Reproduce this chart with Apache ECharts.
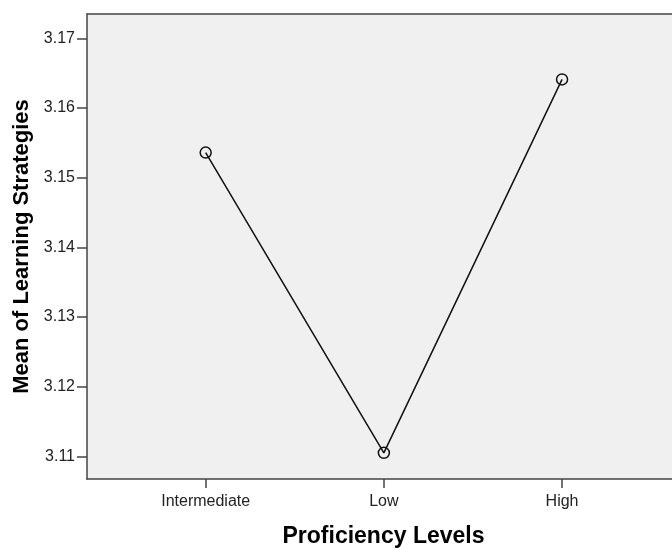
<!DOCTYPE html>
<html>
<head>
<meta charset="utf-8">
<script src="https://cdn.jsdelivr.net/npm/echarts@6/dist/echarts.min.js"></script>
<style>html,body{margin:0;padding:0;background:#fff}#c{width:672px;height:548px}</style>
</head>
<body>
<div id="c"></div>
<script>
var categories = ['Intermediate', 'Low', 'High'];
var means = [3.1536, 3.1105, 3.1641];
var yTicks = [3.11, 3.12, 3.13, 3.14, 3.15, 3.16, 3.17];

var positions = categories.map(function (c, i) { return i + 1; });
var seriesData = means.map(function (v, i) { return [positions[i], v]; });

var FONT = 'Liberation Sans, Arial, sans-serif';
var AXIS_COLOR = '#444444';

var chart = echarts.init(document.getElementById('c'), null, { renderer: 'canvas' });
chart.setOption({
  backgroundColor: '#ffffff',
  animation: false,
  grid: {
    left: 87, top: 14, right: 0, bottom: 69,
    outerBoundsMode: 'none',
    containLabel: false,
    show: true, backgroundColor: '#f0f0f0', borderWidth: 0
  },
  xAxis: [{
    type: 'value',
    min: 0.334,
    max: 3.617,
    name: 'Proficiency Levels',
    nameLocation: 'middle',
    nameGap: 46,
    nameTextStyle: { fontFamily: FONT, fontWeight: 'bold', fontSize: 23, color: '#000', padding: [0, 0, 0, 8] },
    splitLine: { show: false },
    axisLine: { show: true, lineStyle: { color: AXIS_COLOR, width: 1.5 } },
    axisTick: { show: true, customValues: positions, length: 9, lineStyle: { color: AXIS_COLOR, width: 1.5 } },
    axisLabel: {
      customValues: positions,
      margin: 15,
      fontFamily: FONT, fontSize: 16, color: '#222',
      formatter: function (v) { return categories[Math.round(v) - 1] || ''; }
    }
  }, {
    type: 'value',
    position: 'top',
    min: 0.334,
    max: 3.617,
    splitLine: { show: false },
    axisLine: { show: true, lineStyle: { color: AXIS_COLOR, width: 1.5 } },
    axisTick: { show: false },
    axisLabel: { show: false }
  }],
  yAxis: {
    type: 'value',
    min: 3.10674,
    max: 3.17349,
    name: 'Mean of Learning Strategies',
    nameLocation: 'middle',
    nameGap: 54,
    nameTextStyle: { fontFamily: FONT, fontWeight: 'bold', fontSize: 22, color: '#000' },
    splitLine: { show: false },
    axisLine: { show: true, lineStyle: { color: AXIS_COLOR, width: 1.5 } },
    axisTick: { show: true, customValues: yTicks, length: 10, lineStyle: { color: AXIS_COLOR, width: 1.5 } },
    axisLabel: {
      customValues: yTicks,
      margin: 12,
      fontFamily: FONT, fontSize: 16, color: '#222',
      formatter: function (v) { return v.toFixed(2); }
    }
  },
  series: [{
    type: 'line',
    xAxisIndex: 0,
    data: seriesData,
    symbol: 'circle',
    symbolSize: 11,
    itemStyle: { color: 'rgba(0,0,0,0)', borderColor: '#111', borderWidth: 1.5 },
    lineStyle: { color: '#111', width: 1.5 },
    clip: false
  }]
});
</script>
</body>
</html>
